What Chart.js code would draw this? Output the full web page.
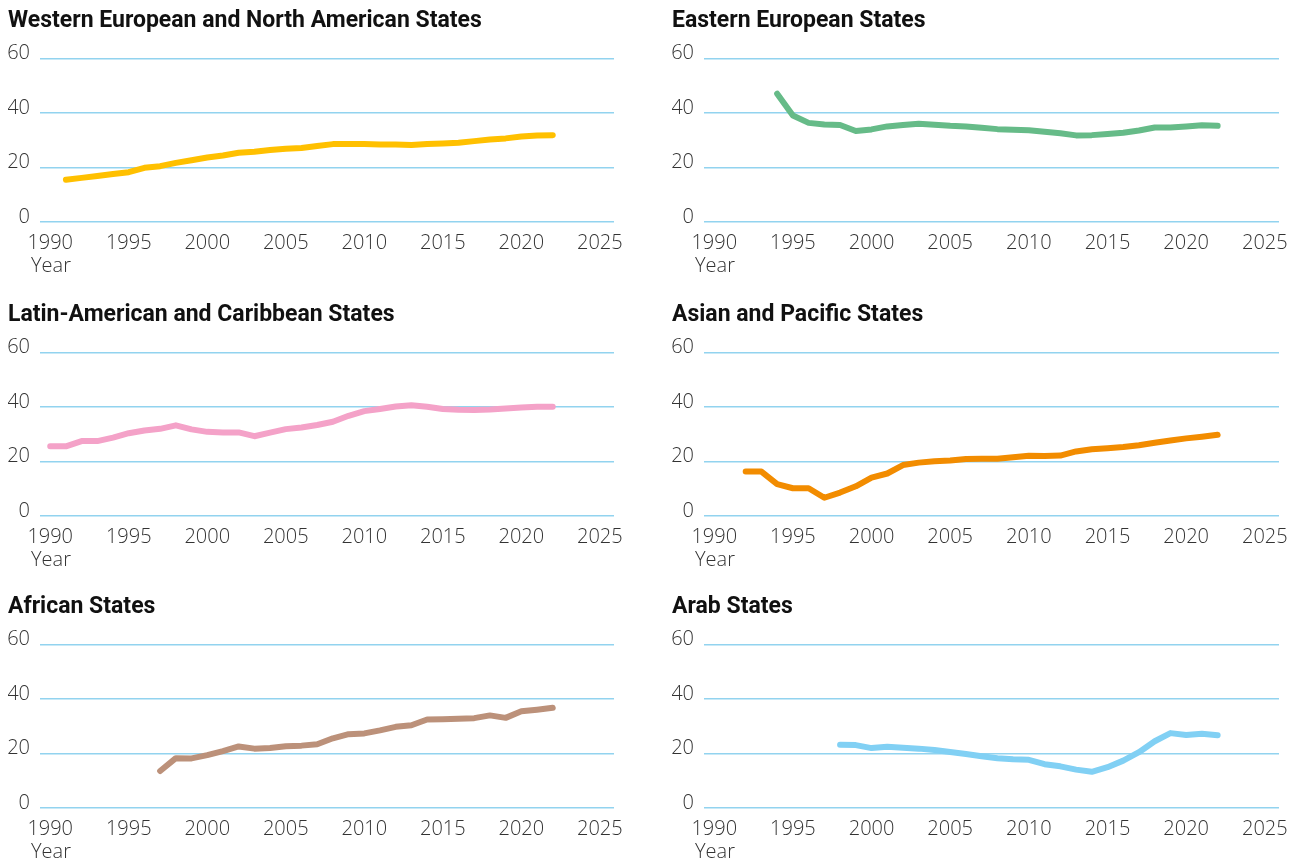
<!DOCTYPE html>
<html>
<head>
<meta charset="utf-8">
<script src="https://cdn.jsdelivr.net/npm/chart.js@4"></script>
<style>
  body { margin: 0; background: #fff; }
  .panel { position: absolute; height: 277px; }
  .panel canvas { display: block; }
</style>
</head>
<body>
<div class="panel" style="left:0;top:0;width:652px"><canvas id="c1"></canvas></div>
<div class="panel" style="left:664px;top:0;width:640px"><canvas id="c2"></canvas></div>
<div class="panel" style="left:0;top:294px;width:652px"><canvas id="c3"></canvas></div>
<div class="panel" style="left:664px;top:294px;width:640px"><canvas id="c4"></canvas></div>
<div class="panel" style="left:0;top:586px;width:652px"><canvas id="c5"></canvas></div>
<div class="panel" style="left:664px;top:586px;width:640px"><canvas id="c6"></canvas></div>
<script>
const years = [1990, 1991, 1992, 1993, 1994, 1995, 1996, 1997, 1998, 1999,
    2000, 2001, 2002, 2003, 2004, 2005, 2006, 2007, 2008, 2009,
    2010, 2011, 2012, 2013, 2014, 2015, 2016, 2017, 2018, 2019,
    2020, 2021, 2022];

const western = [null, 15.5, 16.2, 16.9, 17.6, 18.3, 19.9, 20.5, 21.7, 22.7,
    23.7, 24.4, 25.4, 25.8, 26.4, 26.9, 27.2, 27.9, 28.6, 28.6,
    28.6, 28.5, 28.5, 28.3, 28.6, 28.8, 29.1, 29.7, 30.3, 30.7,
    31.4, 31.8, 31.9];
const eastern = [null, null, null, null, 47.1, 39.1, 36.4, 35.8, 35.6, 33.4,
    34.0, 35.1, 35.6, 36.1, 35.7, 35.3, 35.1, 34.6, 34.1, 33.9,
    33.7, 33.1, 32.6, 31.8, 31.9, 32.3, 32.8, 33.6, 34.7, 34.7,
    35.1, 35.5, 35.3];
const latin = [25.6, 25.6, 27.5, 27.5, 28.8, 30.4, 31.4, 32.0, 33.3, 31.8,
    30.9, 30.7, 30.7, 29.3, 30.6, 31.9, 32.5, 33.4, 34.6, 36.8,
    38.5, 39.3, 40.2, 40.7, 40.1, 39.3, 39.0, 38.9, 39.1, 39.5,
    39.8, 40.1, 40.1];
const asian = [null, null, 16.3, 16.3, 11.7, 10.2, 10.2, 6.7, 8.6, 10.9,
    14.1, 15.6, 18.7, 19.6, 20.1, 20.4, 20.9, 21.0, 21.0, 21.6,
    22.1, 22.0, 22.2, 23.7, 24.5, 24.9, 25.3, 26.0, 26.9, 27.7,
    28.5, 29.1, 29.8];
const african = [null, null, null, null, null, null, null, 13.6, 18.3, 18.2,
    19.4, 20.9, 22.6, 21.8, 22.0, 22.7, 22.9, 23.4, 25.6, 27.1,
    27.4, 28.5, 29.8, 30.4, 32.5, 32.6, 32.8, 33.0, 34.0, 33.1,
    35.5, 36.1, 36.8];
const arab = [null, null, null, null, null, null, null, null, 23.2, 23.1,
    22.0, 22.5, 22.1, 21.8, 21.3, 20.6, 19.8, 19.0, 18.3, 17.9,
    17.7, 16.1, 15.3, 14.1, 13.3, 15.0, 17.4, 20.5, 24.5, 27.5,
    26.8, 27.3, 26.7];

const xTicks = [1990, 1995, 2000, 2005, 2010, 2015, 2020, 2025];
const yTicks = [0, 20, 40, 60];

const panels = [
    { id: "c1", title: "Western European and North American States", values: western, color: "#ffc000", padRight: 38 },
    { id: "c2", title: "Eastern European States", values: eastern, color: "#66bb88", padRight: 25 },
    { id: "c3", title: "Latin-American and Caribbean States", values: latin, color: "#f4a2c8", padRight: 38 },
    { id: "c4", title: "Asian and Pacific States", values: asian, color: "#f28c00", padRight: 25 },
    { id: "c5", title: "African States", values: african, color: "#bc917a", padRight: 38 },
    { id: "c6", title: "Arab States", values: arab, color: "#81d0f4", padRight: 25 },
];

const tickFont = { family: "'Open Sans', sans-serif", size: 20, weight: "300" };

// "Year" sits under the 1990 label, a bit left of the plot area
const yearLabel = {
    id: "yearLabel",
    afterDraw: function (chart) {
        var c = chart.ctx;
        c.save();
        c.font = "300 20px 'Open Sans', sans-serif";
        c.fillStyle = "#333";
        c.textAlign = "left";
        c.textBaseline = "middle";
        c.fillText("Year", chart.chartArea.left - 9, chart.height - 11);
        c.restore();
    },
};

panels.forEach(function (p) {
    var ctx = document.getElementById(p.id).getContext("2d");
    new Chart(ctx, {
        type: "line",
        data: {
            datasets: [
                {
                    data: years.map(function (y, i) { return { x: y, y: p.values[i] }; }),
                    borderColor: p.color,
                    borderWidth: 6,
                    borderCapStyle: "round",
                    borderJoinStyle: "round",
                    pointRadius: 0,
                    tension: 0,
                },
            ],
        },
        options: {
            responsive: true,
            maintainAspectRatio: false,
            animation: false,
            layout: { padding: { left: 8, right: p.padRight, top: 0, bottom: 0 } },
            plugins: {
                legend: { display: false },
                tooltip: { enabled: false },
                title: {
                    display: true,
                    text: p.title,
                    align: "start",
                    color: "#111",
                    font: { family: "Roboto, sans-serif", size: 23, weight: "bold", lineHeight: 1.2 },
                    padding: { top: 7, bottom: 24 },
                },
            },
            scales: {
                x: {
                    type: "linear",
                    min: 1989.35,
                    max: 2025.9,
                    afterBuildTicks: function (axis) {
                        axis.ticks = xTicks.map(function (v) { return { value: v }; });
                    },
                    afterFit: function (axis) { axis.height = 55; },
                    grid: { display: false, drawTicks: false },
                    border: { display: false },
                    ticks: {
                        color: "#333",
                        font: tickFont,
                        padding: 9,
                        maxRotation: 0,
                        autoSkip: false,
                        callback: function (v) { return String(v); },
                    },
                },
                y: {
                    min: 0,
                    max: 60,
                    afterBuildTicks: function (axis) {
                        axis.ticks = yTicks.map(function (v) { return { value: v }; });
                    },
                    afterFit: function (axis) { axis.width = 32; },
                    grid: { color: "#92d3ef", lineWidth: 1.6, drawTicks: false },
                    border: { display: false },
                    ticks: { color: "#333", font: tickFont, padding: 10, labelOffset: -5 },
                },
            },
        },
        plugins: [yearLabel],
    });
});
</script>
</body>
</html>
